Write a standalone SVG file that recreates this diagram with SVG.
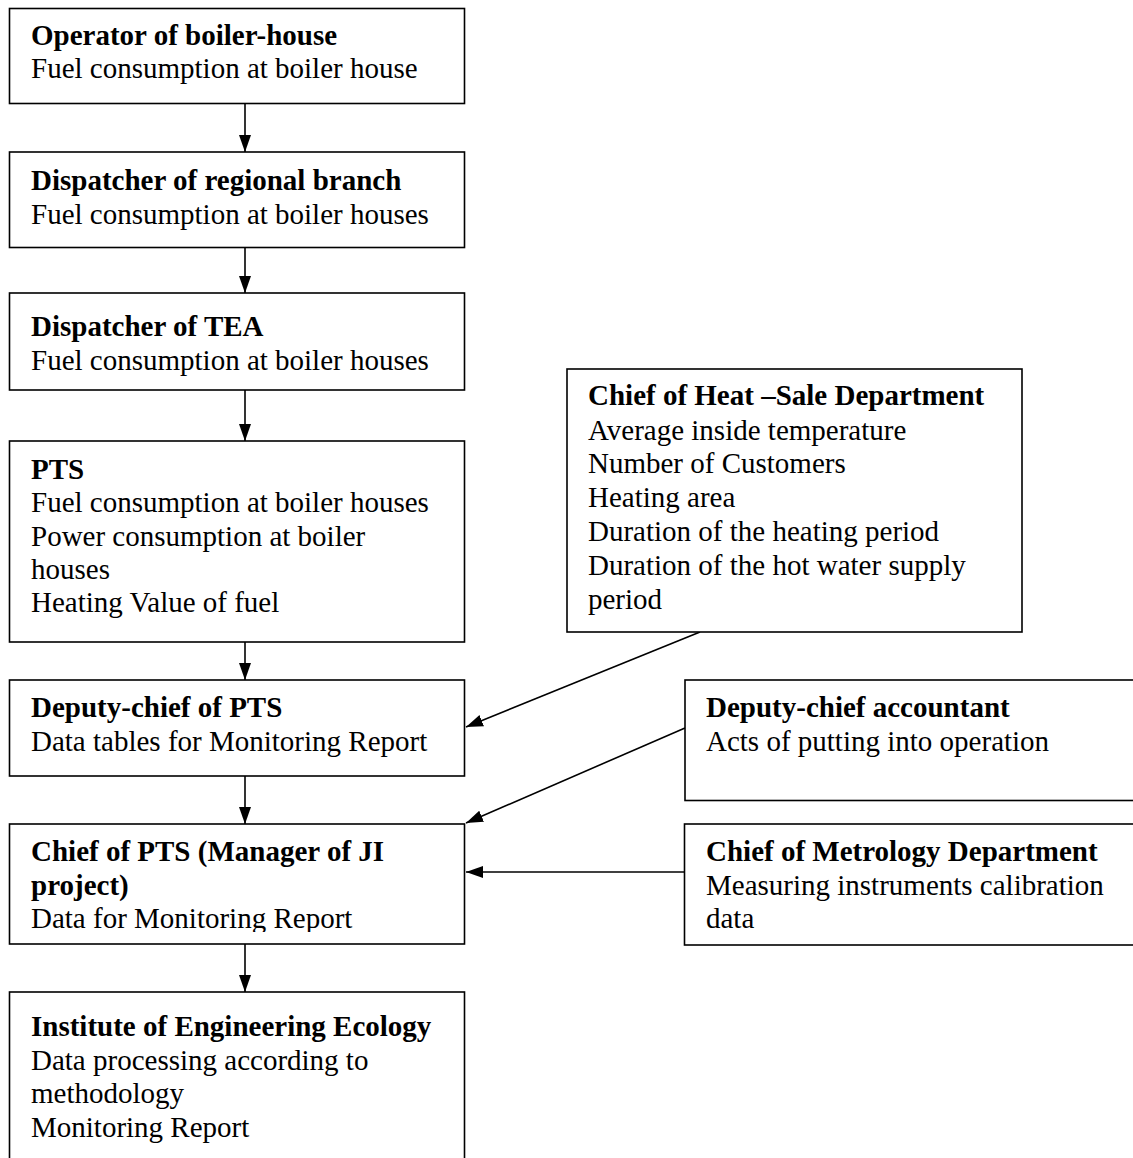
<svg xmlns="http://www.w3.org/2000/svg" width="1133" height="1158" viewBox="0 0 1133 1158">
<style>
.box{fill:#fff;stroke:#000;stroke-width:1.6}
text{font-family:"Liberation Serif","Times New Roman",serif;font-size:29px;fill:#000}
.b{font-weight:bold}
.c{stroke:#000;stroke-width:1.6;fill:none}
</style>
<defs>
<marker id="ah" markerUnits="userSpaceOnUse" markerWidth="18" markerHeight="13" refX="17" refY="6.5" orient="auto">
<path d="M0,0.5 L17,6.5 L0,12.5 z" fill="#000"/>
</marker>
<clipPath id="clip6"><rect x="0" y="824" width="470" height="108"/></clipPath>
</defs>
<rect width="1133" height="1158" fill="#fff"/>
<g id="connectors">
<line class="c" x1="245" y1="104" x2="245" y2="152" marker-end="url(#ah)"/>
<line class="c" x1="245" y1="248" x2="245" y2="293" marker-end="url(#ah)"/>
<line class="c" x1="245" y1="390" x2="245" y2="441" marker-end="url(#ah)"/>
<line class="c" x1="245" y1="632" x2="245" y2="680" marker-end="url(#ah)"/>
<line class="c" x1="245" y1="776" x2="245" y2="824" marker-end="url(#ah)"/>
<line class="c" x1="245" y1="944" x2="245" y2="992" marker-end="url(#ah)"/>
<line class="c" x1="700" y1="632" x2="466" y2="727" marker-end="url(#ah)"/>
<line class="c" x1="685" y1="728" x2="466" y2="823" marker-end="url(#ah)"/>
<line class="c" x1="684" y1="872" x2="466" y2="872" marker-end="url(#ah)"/>
</g>
<g id="n1">
<rect class="box" x="9.5" y="8.5" width="455" height="95"/>
<text x="31" y="45"><tspan class="b">Operator of boiler-house</tspan><tspan x="31" y="78">Fuel consumption at boiler house</tspan></text>
</g>
<g id="n2">
<rect class="box" x="9.5" y="152" width="455" height="95.5"/>
<text x="31" y="190"><tspan class="b">Dispatcher of regional branch</tspan><tspan x="31" y="224">Fuel consumption at boiler houses</tspan></text>
</g>
<g id="n3">
<rect class="box" x="9.5" y="293" width="455" height="97"/>
<text x="31" y="336"><tspan class="b">Dispatcher of TEA</tspan><tspan x="31" y="370">Fuel consumption at boiler houses</tspan></text>
</g>
<g id="n4">
<rect class="box" x="9.5" y="441" width="455" height="201"/>
<text x="31" y="479"><tspan class="b">PTS</tspan><tspan x="31" y="512">Fuel consumption at boiler houses</tspan><tspan x="31" y="546">Power consumption at boiler</tspan><tspan x="31" y="579">houses</tspan><tspan x="31" y="612">Heating Value of fuel</tspan></text>
</g>
<g id="n5">
<rect class="box" x="9.5" y="680" width="455" height="96"/>
<text x="31" y="717"><tspan class="b">Deputy-chief of PTS</tspan><tspan x="31" y="751">Data tables for Monitoring Report</tspan></text>
</g>
<g id="n6">
<rect class="box" x="9.5" y="824" width="455" height="120"/>
<text x="31" y="861" class="b">Chief of PTS (Manager of JI</text>
<text x="31" y="895" class="b">project)</text>
<text x="31" y="928" clip-path="url(#clip6)">Data for Monitoring Report</text>
</g>
<g id="n7">
<rect class="box" x="9.5" y="992" width="455" height="180"/>
<text x="31" y="1036"><tspan class="b">Institute of Engineering Ecology</tspan><tspan x="31" y="1070">Data processing according to</tspan><tspan x="31" y="1103">methodology</tspan><tspan x="31" y="1137">Monitoring Report</tspan></text>
</g>
<g id="n8">
<rect class="box" x="567" y="369" width="455" height="263"/>
<text x="588" y="405"><tspan class="b">Chief of Heat –Sale Department</tspan><tspan x="588" y="440">Average inside temperature</tspan><tspan x="588" y="473">Number of Customers</tspan><tspan x="588" y="507">Heating area</tspan><tspan x="588" y="541">Duration of the heating period</tspan><tspan x="588" y="575">Duration of the hot water supply</tspan><tspan x="588" y="609">period</tspan></text>
</g>
<g id="n9">
<rect class="box" x="685" y="680" width="460" height="120.5"/>
<text x="706" y="717"><tspan class="b">Deputy-chief accountant</tspan><tspan x="706" y="751">Acts of putting into operation</tspan></text>
</g>
<g id="n10">
<rect class="box" x="684.5" y="824" width="460" height="121"/>
<text x="706" y="861"><tspan class="b">Chief of Metrology Department</tspan><tspan x="706" y="895">Measuring instruments calibration</tspan><tspan x="706" y="928">data</tspan></text>
</g>
</svg>
